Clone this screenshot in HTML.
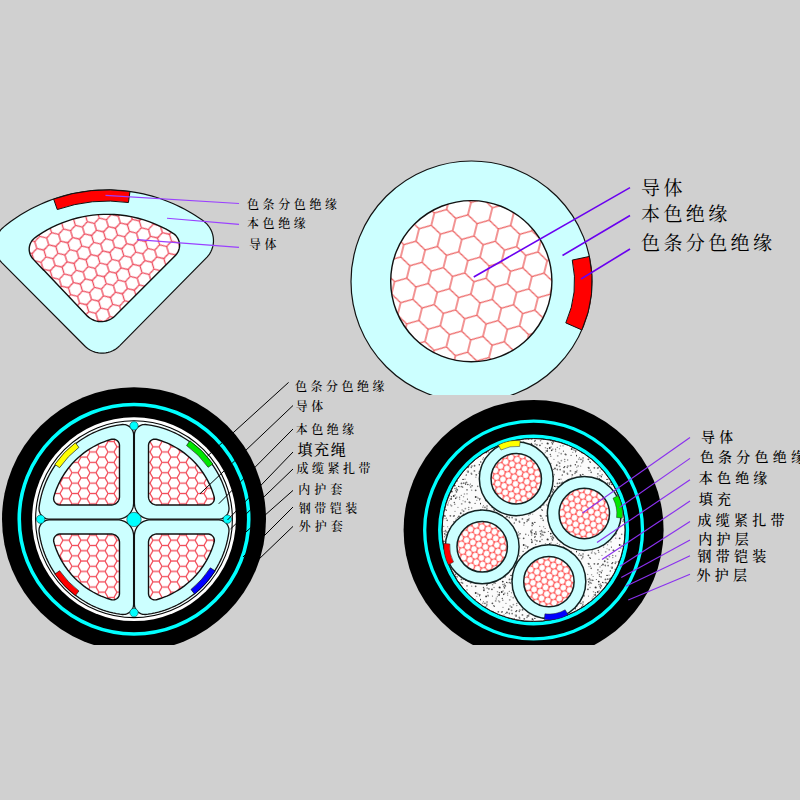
<!DOCTYPE html>
<html lang="zh"><head><meta charset="utf-8"><title>电缆结构示意图</title><style>html,body{margin:0;padding:0;background:#d0d0d0;width:800px;height:800px;overflow:hidden}svg{display:block}</style></head><body>
<svg width="800" height="800" viewBox="0 0 800 800"><defs>
<pattern id="hxA" width="12.47" height="21.6" patternUnits="userSpaceOnUse" patternTransform="translate(0 0) rotate(-17)"><rect width="13.47" height="22.6" fill="#fff"/><path d="M0 3.6 L6.24 0 L12.47 3.6 L12.47 10.8 L6.24 14.4 L0 10.8M6.24 14.4 L6.24 21.6M0 3.6 L0 10.8 M12.47 3.6 L12.47 10.8" fill="none" stroke="#ee4a5c" stroke-width="1.3"/></pattern>
<pattern id="hxB" width="22" height="38.1" patternUnits="userSpaceOnUse" patternTransform="translate(0 0) rotate(14)"><rect width="23" height="39.1" fill="#fff"/><path d="M0 6.35 L11 0 L22 6.35 L22 19.05 L11 25.4 L0 19.05M11 25.4 L11 38.1M0 6.35 L0 19.05 M22 6.35 L22 19.05" fill="none" stroke="#ec5c5c" stroke-width="1.3"/></pattern>
<pattern id="hxC" width="10.39" height="18" patternUnits="userSpaceOnUse" patternTransform="translate(0 0) rotate(90)"><rect width="11.39" height="19" fill="#fff"/><path d="M0 3 L5.2 0 L10.39 3 L10.39 9 L5.2 12 L0 9M5.2 12 L5.2 18M0 3 L0 9 M10.39 3 L10.39 9" fill="none" stroke="#f24a58" stroke-width="1.3"/></pattern>
<pattern id="cpD" width="6.7" height="11.6" patternUnits="userSpaceOnUse" patternTransform="translate(0 0) rotate(20)"><rect width="7.7" height="12.6" fill="#ff5a5a"/><circle cx="0" cy="0" r="2.8" fill="#fff"/><circle cx="6.7" cy="0" r="2.8" fill="#fff"/><circle cx="0" cy="11.6" r="2.8" fill="#fff"/><circle cx="6.7" cy="11.6" r="2.8" fill="#fff"/><circle cx="3.35" cy="5.8" r="2.8" fill="#fff"/></pattern>
<pattern id="spk" width="48" height="48" patternUnits="userSpaceOnUse"><rect width="48" height="48" fill="#fbfbfb"/><circle cx="15.54" cy="7.24" r="0.6" fill="#777"/><circle cx="3.48" cy="25.72" r="0.6" fill="#888"/><circle cx="43.67" cy="10.31" r="0.9" fill="#555"/><circle cx="20.07" cy="11.55" r="0.9" fill="#999"/><circle cx="2.84" cy="27.14" r="0.6" fill="#666"/><circle cx="27.7" cy="19.04" r="0.6" fill="#666"/><circle cx="26.72" cy="6.39" r="0.7" fill="#333"/><circle cx="25.95" cy="27.4" r="0.7" fill="#999"/><circle cx="4.95" cy="27.42" r="0.8" fill="#666"/><circle cx="4.68" cy="34.18" r="0.6" fill="#999"/><circle cx="29.71" cy="23.83" r="0.9" fill="#999"/><circle cx="37.31" cy="22.35" r="0.8" fill="#333"/><circle cx="14.39" cy="38.13" r="0.7" fill="#777"/><circle cx="3.93" cy="14.41" r="0.8" fill="#333"/><circle cx="35.01" cy="13.82" r="0.6" fill="#555"/><circle cx="24.57" cy="7.92" r="0.7" fill="#888"/><circle cx="44.8" cy="20.24" r="0.6" fill="#777"/><circle cx="36.7" cy="27.51" r="0.8" fill="#888"/><circle cx="33.37" cy="28.53" r="0.9" fill="#999"/><circle cx="3.3" cy="4.49" r="0.9" fill="#888"/><circle cx="33.46" cy="3.12" r="0.8" fill="#777"/><circle cx="31.06" cy="47.67" r="0.8" fill="#333"/><circle cx="34.4" cy="42.58" r="0.6" fill="#888"/><circle cx="45.15" cy="17.06" r="0.6" fill="#999"/><circle cx="23.7" cy="10.47" r="0.7" fill="#888"/><circle cx="35.44" cy="19.1" r="0.6" fill="#333"/><circle cx="7.99" cy="19.28" r="0.7" fill="#888"/><circle cx="39.33" cy="41.47" r="0.9" fill="#888"/><circle cx="47.35" cy="32.77" r="0.7" fill="#333"/><circle cx="7.24" cy="8.46" r="0.7" fill="#666"/><circle cx="0.58" cy="39.89" r="0.8" fill="#666"/><circle cx="13.53" cy="6.99" r="0.8" fill="#999"/><circle cx="29.27" cy="15.29" r="0.6" fill="#666"/><circle cx="21.92" cy="41.81" r="0.9" fill="#777"/><circle cx="19.11" cy="18.92" r="0.9" fill="#333"/><circle cx="2.99" cy="3.23" r="0.9" fill="#666"/><circle cx="7.79" cy="16.32" r="0.6" fill="#555"/><circle cx="0.01" cy="7.26" r="0.8" fill="#555"/><circle cx="29.46" cy="3.38" r="0.9" fill="#666"/><circle cx="7.13" cy="12.11" r="0.8" fill="#888"/><circle cx="22.76" cy="5.54" r="0.9" fill="#333"/><circle cx="23.06" cy="14.97" r="0.6" fill="#666"/><circle cx="35.98" cy="35.54" r="0.7" fill="#333"/><circle cx="24.78" cy="9.85" r="0.8" fill="#999"/><circle cx="7.04" cy="26.07" r="0.8" fill="#555"/><circle cx="46.97" cy="41.44" r="0.8" fill="#777"/><circle cx="24.88" cy="43.6" r="0.7" fill="#888"/><circle cx="25.56" cy="37.39" r="0.7" fill="#888"/><circle cx="29.43" cy="37.84" r="0.7" fill="#666"/><circle cx="39.28" cy="35.51" r="0.7" fill="#666"/><circle cx="24.85" cy="17.07" r="0.6" fill="#555"/><circle cx="37.93" cy="22.67" r="0.8" fill="#666"/><circle cx="21.47" cy="44.98" r="0.8" fill="#888"/><circle cx="3.87" cy="4.9" r="0.7" fill="#333"/><circle cx="16.21" cy="23.17" r="0.6" fill="#999"/><circle cx="23.01" cy="31.34" r="0.6" fill="#777"/><circle cx="40.06" cy="5.76" r="0.7" fill="#333"/><circle cx="22.95" cy="8.57" r="0.8" fill="#777"/><circle cx="4.16" cy="45.42" r="0.9" fill="#777"/><circle cx="22.23" cy="35.68" r="0.7" fill="#555"/><circle cx="8.16" cy="6.1" r="0.9" fill="#666"/><circle cx="38.71" cy="7.02" r="0.9" fill="#999"/><circle cx="31.55" cy="16.82" r="0.7" fill="#999"/><circle cx="1.03" cy="38.37" r="0.6" fill="#777"/><circle cx="25.28" cy="44.81" r="0.7" fill="#333"/><circle cx="39.66" cy="10.13" r="0.7" fill="#888"/><circle cx="14.06" cy="11.55" r="0.8" fill="#999"/><circle cx="12.45" cy="20.11" r="0.6" fill="#666"/><circle cx="43.68" cy="16.98" r="0.9" fill="#333"/><circle cx="39.7" cy="42.15" r="0.7" fill="#666"/><circle cx="25.13" cy="0.9" r="0.7" fill="#333"/><circle cx="29.21" cy="37.25" r="0.7" fill="#666"/><circle cx="6.79" cy="29.72" r="0.6" fill="#555"/><circle cx="15.65" cy="24.88" r="0.9" fill="#999"/><circle cx="37.65" cy="5.09" r="0.6" fill="#999"/><circle cx="11.93" cy="13.29" r="0.9" fill="#555"/><circle cx="26.96" cy="36.48" r="0.9" fill="#555"/><circle cx="15.63" cy="46.72" r="0.7" fill="#999"/><circle cx="33.25" cy="21.71" r="0.9" fill="#999"/><circle cx="24.37" cy="11.89" r="0.8" fill="#999"/><circle cx="44.29" cy="42.85" r="0.9" fill="#666"/><circle cx="6.58" cy="5.84" r="0.8" fill="#333"/><circle cx="3.48" cy="11.55" r="0.7" fill="#555"/><circle cx="32.13" cy="37.63" r="0.8" fill="#666"/><circle cx="6.86" cy="42.38" r="0.7" fill="#333"/><circle cx="35.84" cy="4.52" r="0.7" fill="#333"/><circle cx="47.51" cy="39.96" r="0.9" fill="#666"/><circle cx="47.72" cy="19.38" r="0.7" fill="#333"/><circle cx="17.12" cy="4.43" r="0.6" fill="#888"/><circle cx="16.22" cy="22.02" r="0.6" fill="#777"/><circle cx="18.45" cy="24.84" r="0.6" fill="#888"/><circle cx="5.42" cy="44.09" r="0.6" fill="#666"/><circle cx="4.03" cy="13.05" r="0.8" fill="#666"/><circle cx="36.28" cy="39.35" r="0.8" fill="#777"/><circle cx="19.49" cy="25.76" r="0.9" fill="#999"/><circle cx="33.62" cy="4.29" r="0.7" fill="#555"/><circle cx="20.42" cy="3.48" r="0.6" fill="#555"/><circle cx="38.48" cy="4.02" r="0.6" fill="#666"/><circle cx="12.69" cy="5.84" r="0.8" fill="#555"/><circle cx="47.73" cy="20.05" r="0.7" fill="#888"/><circle cx="2.07" cy="34.06" r="0.7" fill="#555"/><circle cx="12.57" cy="8.7" r="0.8" fill="#888"/><circle cx="25.49" cy="9.88" r="0.7" fill="#333"/><circle cx="12.99" cy="38.58" r="0.6" fill="#888"/><circle cx="0.74" cy="35.19" r="0.7" fill="#999"/><circle cx="24.68" cy="11.79" r="0.6" fill="#333"/><circle cx="31.6" cy="31.21" r="0.9" fill="#777"/><circle cx="26.2" cy="42.66" r="0.8" fill="#999"/><circle cx="33.01" cy="47.16" r="0.7" fill="#888"/><circle cx="39.95" cy="33.92" r="0.7" fill="#777"/><circle cx="19.43" cy="16.68" r="0.7" fill="#555"/><circle cx="0.68" cy="30.02" r="0.9" fill="#888"/><circle cx="7.84" cy="4.06" r="0.8" fill="#333"/><circle cx="28.74" cy="33.25" r="0.9" fill="#555"/><circle cx="8.9" cy="12.91" r="0.8" fill="#555"/><circle cx="17.48" cy="15.79" r="0.8" fill="#999"/><circle cx="11.73" cy="46.35" r="0.7" fill="#888"/><circle cx="17.12" cy="0.05" r="0.6" fill="#333"/><circle cx="22.78" cy="24.13" r="0.7" fill="#666"/><circle cx="24.23" cy="0.24" r="0.6" fill="#888"/><circle cx="6.91" cy="28.17" r="0.6" fill="#333"/><circle cx="14.38" cy="30.22" r="0.7" fill="#555"/><circle cx="31.56" cy="34.37" r="0.9" fill="#999"/><circle cx="36.69" cy="34.59" r="0.7" fill="#333"/><circle cx="13.64" cy="29.7" r="0.6" fill="#666"/><circle cx="39.59" cy="34.32" r="0.9" fill="#999"/><circle cx="35.22" cy="38.99" r="0.6" fill="#666"/><circle cx="39.67" cy="28.03" r="0.7" fill="#777"/><circle cx="4.08" cy="2.01" r="0.8" fill="#777"/><circle cx="46.06" cy="18.08" r="0.6" fill="#333"/><circle cx="30.13" cy="30.06" r="0.7" fill="#777"/><circle cx="23.49" cy="0.16" r="0.6" fill="#555"/><circle cx="31.65" cy="3.17" r="0.9" fill="#777"/><circle cx="12.11" cy="3.57" r="0.7" fill="#888"/><circle cx="35.01" cy="9.85" r="0.9" fill="#777"/><circle cx="23.71" cy="18.36" r="0.8" fill="#333"/><circle cx="36.81" cy="29.61" r="0.7" fill="#777"/><circle cx="3.72" cy="7.08" r="0.8" fill="#888"/><circle cx="29.82" cy="6.41" r="0.6" fill="#333"/><circle cx="23.32" cy="46.68" r="0.7" fill="#555"/><circle cx="32.43" cy="13.96" r="0.8" fill="#999"/><circle cx="22.3" cy="22.38" r="0.7" fill="#555"/><circle cx="14.96" cy="4.12" r="0.6" fill="#333"/><circle cx="13.9" cy="3.67" r="0.9" fill="#999"/><circle cx="47.71" cy="18.57" r="0.6" fill="#666"/><circle cx="27.91" cy="6.8" r="0.8" fill="#999"/><circle cx="45.73" cy="6.37" r="0.8" fill="#777"/><circle cx="42.57" cy="33.76" r="0.9" fill="#666"/><circle cx="43.09" cy="23.33" r="0.7" fill="#555"/><circle cx="0.17" cy="23.6" r="0.9" fill="#333"/><circle cx="14.49" cy="6.75" r="0.9" fill="#888"/><circle cx="15.17" cy="40.33" r="0.8" fill="#555"/><circle cx="36.04" cy="40.28" r="0.7" fill="#555"/><circle cx="34.23" cy="43.28" r="0.8" fill="#888"/><circle cx="17.87" cy="18.86" r="0.6" fill="#999"/><circle cx="17.31" cy="20.55" r="0.6" fill="#888"/><circle cx="13.47" cy="2.48" r="0.8" fill="#777"/><circle cx="30.48" cy="7.15" r="0.9" fill="#888"/><circle cx="24.53" cy="9.11" r="0.9" fill="#888"/><circle cx="42.44" cy="38.97" r="0.9" fill="#777"/><circle cx="43.84" cy="45.15" r="0.7" fill="#999"/><circle cx="34.54" cy="2.37" r="0.9" fill="#777"/><circle cx="21.64" cy="36.13" r="0.8" fill="#777"/><circle cx="23.31" cy="43.77" r="0.7" fill="#999"/><circle cx="8.2" cy="19.91" r="0.8" fill="#888"/><circle cx="12.28" cy="35.46" r="0.8" fill="#777"/><circle cx="19.5" cy="11.46" r="0.9" fill="#333"/><circle cx="5.75" cy="30.87" r="0.7" fill="#555"/><circle cx="24.03" cy="38.97" r="0.7" fill="#999"/><circle cx="21.74" cy="15.98" r="0.9" fill="#333"/><circle cx="6.7" cy="9.24" r="0.7" fill="#555"/><circle cx="16.41" cy="4.37" r="0.8" fill="#666"/><circle cx="12.4" cy="27.34" r="0.9" fill="#555"/><circle cx="18.38" cy="35.8" r="0.9" fill="#666"/><circle cx="12.97" cy="36.1" r="0.8" fill="#333"/><circle cx="27.57" cy="17.29" r="0.7" fill="#777"/><circle cx="4.44" cy="43.05" r="0.9" fill="#333"/><circle cx="31" cy="20.73" r="0.6" fill="#888"/><circle cx="6.11" cy="20.41" r="0.9" fill="#333"/><circle cx="0.01" cy="18.79" r="0.9" fill="#999"/></pattern>
<clipPath id="clipTop"><rect x="0" y="0" width="800" height="395"/></clipPath>
<clipPath id="clipBot"><rect x="0" y="0" width="800" height="645"/></clipPath>
</defs>
<rect width="800" height="800" fill="#d0d0d0"/>
<g clip-path="url(#clipTop)">
<circle cx="471.5" cy="281.5" r="120.5" fill="#ccffff" stroke="#111" stroke-width="1.2"/>
<circle cx="471.3" cy="281.2" r="80.6" fill="url(#hxB)" stroke="#111" stroke-width="1.4"/>
<path d="M589.37 256.45A120.5 120.5 0 0 1 581.84 329.93L565.81 322.9A103 103 0 0 0 572.25 260.09Z" fill="#ff0000" stroke="#111" stroke-width="1"/>
</g>
<path d="M2.1 228.45L0.49 230.22L-0.94 232.13L-1.58 233.14L-2.71 235.24L-3.63 237.45L-4.33 239.73L-4.8 242.07L-5.04 244.44L-5.08 245.64L-4.97 248.02L-4.62 250.39L-4.05 252.7L-3.25 254.95L-2.23 257.11L-1.01 259.16L0.41 261.09L2.01 262.86L85.55 346.77L87.42 348.31L88.41 349.01L90.49 350.26L92.68 351.3L94.96 352.12L96.13 352.44L98.51 352.91L100.92 353.14L103.35 353.14L105.76 352.89L108.14 352.41L110.46 351.7L112.69 350.76L114.82 349.61L115.84 348.95L117.78 347.5L119.57 345.86L207.29 256.89L208.07 255.98L209.48 254.05L210.69 251.99L211.7 249.82L212.49 247.56L212.8 246.41L213.25 244.06L213.46 241.68L213.44 239.29L213.19 236.92L212.7 234.58L211.99 232.29L211.06 230.09L209.91 228L208.57 226.02L207.04 224.19L206.2 223.33L204.42 221.74L201.82 219.83L198.38 217.48L195.01 215.29L191.72 213.26L188.25 211.23L184.73 209.29L181.03 207.37L176.64 205.25L172.84 203.53L169.14 201.98L164.59 200.21L160.67 198.8L156.04 197.29L152.18 196.14L148.16 195.06L143.42 193.92L139.49 193.08L135.39 192.32L130.58 191.56L126.44 191.02L122.45 190.61L117.59 190.23L113.57 190.03L109.55 189.93L102.37 190L98.36 190.17L94.35 190.45L90.49 190.8L86.5 191.27L82.52 191.83L78.56 192.49L71.52 193.92L67.61 194.85L63.72 195.87L59.86 196.99L56.03 198.21L52.23 199.52L48.61 200.87L44.87 202.36L41.18 203.94L34.68 206.99L31.1 208.82L27.57 210.74L24.08 212.74L20.65 214.83L17.27 217L13.94 219.26L10.67 221.59L6.78 224.53L3.87 226.86Z" fill="#ccffff" stroke="#111" stroke-width="1.2"/>
<path d="M34.08 238.44L33.08 239.42L32.17 240.48L31.02 242.24L30.39 243.5L29.9 244.81L29.53 246.16L29.3 247.54L29.2 248.94L29.24 250.34L29.42 251.73L29.73 253.09L30.17 254.42L30.74 255.7L31.43 256.92L32.24 258.07L33.15 259.13L43.71 270.23L43.9 270.23L87.43 316.12L88.88 317.38L90.44 318.49L92.1 319.45L93.85 320.24L95.67 320.86L96.6 321.1L98.49 321.45L100.4 321.61L102.32 321.59L104.23 321.39L106.11 320.99L107.94 320.42L109.71 319.68L111.4 318.76L112.99 317.69L114.47 316.47L175.86 254.96L177.15 253.31L177.87 252.12L178.47 250.87L178.94 249.56L179.29 248.21L179.56 246.14L179.57 244.75L179.45 243.36L179.19 241.99L178.8 240.66L178.29 239.37L177.65 238.13L176.47 236.4L175.56 235.36L174.55 234.4L173.44 233.55L170.74 231.87L166.14 229.24L160.82 226.52L155.29 224.03L149.65 221.81L143.91 219.87L138.08 218.22L132.18 216.85L126.12 215.76L120.11 214.99L114.07 214.51L108.77 214.33L103.47 214.38L98.17 214.66L92.89 215.16L87.64 215.9L82.42 216.85L77.25 218.03L72.14 219.43L67.09 221.05L62.11 222.89L57.22 224.93L51.82 227.48L47.14 229.97L42.49 232.7L37.48 235.95L35.18 237.57Z" fill="url(#hxA)" stroke="#111" stroke-width="1.4"/>
<path d="M53.62 199.04A163.74 163.74 0 0 1 129.98 191.48L128.44 202.52A152.6 152.6 0 0 0 57.28 209.56Z" fill="#ff0000" stroke="#111" stroke-width="1"/>
<g clip-path="url(#clipBot)">
<circle cx="134" cy="519.2" r="132" fill="#000"/>
<circle cx="134" cy="519.2" r="114.75" fill="none" stroke="#00ffff" stroke-width="3.6"/>
<circle cx="134" cy="519.2" r="101.9" fill="#fff"/>
<circle cx="134" cy="519.2" r="98.4" fill="#f4ffff" stroke="#000" stroke-width="1.1"/>
<path d="M133.61 503.1L133.61 435L133.56 433.98L133.41 432.97L133.17 431.98L132.83 431.02L132.4 430.1L131.88 429.22L131.27 428.39L130.23 427.28L129.03 426.32L127.71 425.56L126.77 425.15L125.3 424.73L124.29 424.56L122.77 424.5L119.89 424.84L116.42 425.42L112.97 426.13L109.54 426.97L106.16 427.93L102.93 428.98L99.61 430.18L96.35 431.51L93.14 432.95L90.91 434.04L87.79 435.68L84.74 437.44L81.86 439.24L78.94 441.21L76.93 442.66L74.14 444.82L71.53 446.99L68.91 449.33L66.37 451.78L64.64 453.55L62.26 456.15L60.06 458.73L57.87 461.5L55.79 464.34L54.38 466.38L52.48 469.35L50.69 472.38L49.01 475.48L47.45 478.64L46.01 481.85L44.73 484.99L43.52 488.3L42.43 491.66L41.43 495.17L40.38 499.61L39.69 503.2L39.08 507.25L38.99 508.78L39.13 510.3L39.49 511.79L40.06 513.21L40.55 514.1L41.44 515.34L42.51 516.44L43.72 517.38L45.05 518.12L46 518.51L47.47 518.91L48.99 519.1L117.6 519.11L119.17 519.03L121.49 518.63L122.99 518.17L124.44 517.57L125.83 516.83L127.76 515.48L128.92 514.42L130.46 512.64L131.33 511.33L132.39 509.23L132.92 507.75L133.3 506.22L133.53 504.67Z" fill="#ccffff" stroke="#111" stroke-width="1.3"/>
<path d="M134.39 503.1L134.39 435L134.44 433.98L134.59 432.97L134.83 431.98L135.17 431.02L135.6 430.1L136.12 429.22L136.73 428.39L137.77 427.28L138.97 426.32L140.29 425.56L141.23 425.15L142.7 424.73L143.71 424.56L145.23 424.5L148.11 424.84L151.58 425.42L155.03 426.13L158.46 426.97L161.84 427.93L165.07 428.98L168.39 430.18L171.65 431.51L174.86 432.95L177.09 434.04L180.21 435.68L183.26 437.44L186.14 439.24L189.06 441.21L191.07 442.66L193.86 444.82L196.47 446.99L199.09 449.33L201.63 451.78L203.36 453.55L205.74 456.15L207.94 458.73L210.13 461.5L212.21 464.34L213.62 466.38L215.52 469.35L217.31 472.38L218.99 475.48L220.55 478.64L221.99 481.85L223.27 484.99L224.48 488.3L225.57 491.66L226.57 495.17L227.62 499.61L228.31 503.2L228.92 507.25L229.01 508.78L228.87 510.3L228.51 511.79L227.94 513.21L227.45 514.1L226.56 515.34L225.49 516.44L224.28 517.38L222.95 518.12L222 518.51L220.53 518.91L219.01 519.1L150.4 519.11L148.83 519.03L146.51 518.63L145.01 518.17L143.56 517.57L142.17 516.83L140.24 515.48L139.08 514.42L137.54 512.64L136.67 511.33L135.61 509.23L135.08 507.75L134.7 506.22L134.47 504.67Z" fill="#ccffff" stroke="#111" stroke-width="1.3"/>
<path d="M133.61 535.9L133.61 604L133.56 605.02L133.41 606.03L133.17 607.02L132.83 607.98L132.4 608.9L131.88 609.78L131.27 610.61L130.23 611.72L129.03 612.68L127.71 613.44L126.77 613.85L125.3 614.27L124.29 614.44L122.77 614.5L119.89 614.16L116.42 613.58L112.97 612.87L109.54 612.03L106.16 611.07L102.93 610.02L99.61 608.82L96.35 607.49L93.14 606.05L90.91 604.96L87.79 603.32L84.74 601.56L81.86 599.76L78.94 597.79L76.93 596.34L74.14 594.18L71.53 592.01L68.91 589.67L66.37 587.22L64.64 585.45L62.26 582.85L60.06 580.27L57.87 577.5L55.79 574.66L54.38 572.62L52.48 569.65L50.69 566.62L49.01 563.52L47.45 560.36L46.01 557.15L44.73 554.01L43.52 550.7L42.43 547.34L41.43 543.83L40.38 539.39L39.69 535.8L39.08 531.75L38.99 530.22L39.13 528.7L39.49 527.21L40.06 525.79L40.55 524.9L41.44 523.66L42.51 522.56L43.72 521.62L45.05 520.88L46 520.49L47.47 520.09L48.99 519.9L117.6 519.89L119.17 519.97L121.49 520.37L122.99 520.83L124.44 521.43L125.83 522.17L127.76 523.52L128.92 524.58L130.46 526.36L131.33 527.67L132.39 529.77L132.92 531.25L133.3 532.78L133.53 534.33Z" fill="#ccffff" stroke="#111" stroke-width="1.3"/>
<path d="M134.39 535.9L134.39 604L134.44 605.02L134.59 606.03L134.83 607.02L135.17 607.98L135.6 608.9L136.12 609.78L136.73 610.61L137.77 611.72L138.97 612.68L140.29 613.44L141.23 613.85L142.7 614.27L143.71 614.44L145.23 614.5L148.11 614.16L151.58 613.58L155.03 612.87L158.46 612.03L161.84 611.07L165.07 610.02L168.39 608.82L171.65 607.49L174.86 606.05L177.09 604.96L180.21 603.32L183.26 601.56L186.14 599.76L189.06 597.79L191.07 596.34L193.86 594.18L196.47 592.01L199.09 589.67L201.63 587.22L203.36 585.45L205.74 582.85L207.94 580.27L210.13 577.5L212.21 574.66L213.62 572.62L215.52 569.65L217.31 566.62L218.99 563.52L220.55 560.36L221.99 557.15L223.27 554.01L224.48 550.7L225.57 547.34L226.57 543.83L227.62 539.39L228.31 535.8L228.92 531.75L229.01 530.22L228.87 528.7L228.51 527.21L227.94 525.79L227.45 524.9L226.56 523.66L225.49 522.56L224.28 521.62L222.95 520.88L222 520.49L220.53 520.09L219.01 519.9L150.4 519.89L148.83 519.97L146.51 520.37L145.01 520.83L143.56 521.43L142.17 522.17L140.24 523.52L139.08 524.58L137.54 526.36L136.67 527.67L135.61 529.77L135.08 531.25L134.7 532.78L134.47 534.33Z" fill="#ccffff" stroke="#111" stroke-width="1.3"/>
<path d="M111.83 504.97L112.66 504.85L113.47 504.64L114.64 504.19L115.38 503.8L116.07 503.34L116.71 502.81L117.31 502.22L118.08 501.23L118.51 500.51L118.86 499.76L119.14 498.97L119.35 498.16L119.47 497.33L119.51 496.5L119.48 445L119.24 443.76L118.9 442.87L118.25 441.78L117.41 440.84L116.67 440.25L115.56 439.64L114.36 439.26L113.1 439.12L111.84 439.22L110.76 439.5L106.94 440.71L103.98 441.79L101.14 442.94L98.34 444.21L95.6 445.57L92.97 446.99L88.54 449.69L86 451.41L83.59 453.17L79.55 456.44L77.27 458.49L75.12 460.56L71.56 464.34L69.58 466.68L67.72 469.02L64.71 473.25L63.05 475.83L61.53 478.4L60.07 481.1L58.71 483.84L56.63 488.6L55.55 491.47L54.57 494.38L53.79 497.03L53.62 498.28L53.7 499.55L54.03 500.77L54.42 501.63L55.13 502.67L56.03 503.56L57.09 504.26L58.26 504.74L59.5 504.98L111 505.01Z" fill="url(#hxC)" stroke="#111" stroke-width="1.4"/>
<path d="M156.17 504.97L155.34 504.85L154.53 504.64L153.36 504.19L152.62 503.8L151.93 503.34L151.29 502.81L150.69 502.22L149.92 501.23L149.49 500.51L149.14 499.76L148.86 498.97L148.65 498.16L148.53 497.33L148.49 496.5L148.52 445L148.76 443.76L149.1 442.87L149.75 441.78L150.59 440.84L151.33 440.25L152.44 439.64L153.64 439.26L154.9 439.12L156.16 439.22L157.24 439.5L161.06 440.71L164.02 441.79L166.86 442.94L169.66 444.21L172.4 445.57L175.03 446.99L179.46 449.69L182 451.41L184.41 453.17L188.45 456.44L190.73 458.49L192.88 460.56L196.44 464.34L198.42 466.68L200.28 469.02L203.29 473.25L204.95 475.83L206.47 478.4L207.93 481.1L209.29 483.84L211.37 488.6L212.45 491.47L213.43 494.38L214.21 497.03L214.38 498.28L214.3 499.55L213.97 500.77L213.58 501.63L212.87 502.67L211.97 503.56L210.91 504.26L209.74 504.74L208.5 504.98L157 505.01Z" fill="url(#hxC)" stroke="#111" stroke-width="1.4"/>
<path d="M111.83 534.03L112.66 534.15L113.47 534.36L114.64 534.81L115.38 535.2L116.07 535.66L116.71 536.19L117.31 536.78L118.08 537.77L118.51 538.49L118.86 539.24L119.14 540.03L119.35 540.84L119.47 541.67L119.51 542.5L119.48 594L119.24 595.24L118.9 596.13L118.25 597.22L117.41 598.16L116.67 598.75L115.56 599.36L114.36 599.74L113.1 599.88L111.84 599.78L110.76 599.5L106.94 598.29L103.98 597.21L101.14 596.06L98.34 594.79L95.6 593.43L92.97 592.01L88.54 589.31L86 587.59L83.59 585.83L79.55 582.56L77.27 580.51L75.12 578.44L71.56 574.66L69.58 572.32L67.72 569.98L64.71 565.75L63.05 563.17L61.53 560.6L60.07 557.9L58.71 555.16L56.63 550.4L55.55 547.53L54.57 544.62L53.79 541.97L53.62 540.72L53.7 539.45L54.03 538.23L54.42 537.37L55.13 536.33L56.03 535.44L57.09 534.74L58.26 534.26L59.5 534.02L111 533.99Z" fill="url(#hxC)" stroke="#111" stroke-width="1.4"/>
<path d="M156.17 534.03L155.34 534.15L154.53 534.36L153.36 534.81L152.62 535.2L151.93 535.66L151.29 536.19L150.69 536.78L149.92 537.77L149.49 538.49L149.14 539.24L148.86 540.03L148.65 540.84L148.53 541.67L148.49 542.5L148.52 594L148.76 595.24L149.1 596.13L149.75 597.22L150.59 598.16L151.33 598.75L152.44 599.36L153.64 599.74L154.9 599.88L156.16 599.78L157.24 599.5L161.06 598.29L164.02 597.21L166.86 596.06L169.66 594.79L172.4 593.43L175.03 592.01L179.46 589.31L182 587.59L184.41 585.83L188.45 582.56L190.73 580.51L192.88 578.44L196.44 574.66L198.42 572.32L200.28 569.98L203.29 565.75L204.95 563.17L206.47 560.6L207.93 557.9L209.29 555.16L211.37 550.4L212.45 547.53L213.43 544.62L214.21 541.97L214.38 540.72L214.3 539.45L213.97 538.23L213.58 537.37L212.87 536.33L211.97 535.44L210.91 534.74L209.74 534.26L208.5 534.02L157 533.99Z" fill="url(#hxC)" stroke="#111" stroke-width="1.4"/>
<circle cx="134" cy="519.5" r="7.2" fill="#00ffff" stroke="#144" stroke-width="0.6"/>
<circle cx="40.599999999999994" cy="519.2" r="4.2" fill="#00ffff" stroke="#144" stroke-width="0.6"/>
<circle cx="227.4" cy="519.2" r="4.2" fill="#00ffff" stroke="#144" stroke-width="0.6"/>
<circle cx="134" cy="425.80000000000007" r="4.2" fill="#00ffff" stroke="#144" stroke-width="0.6"/>
<circle cx="134" cy="612.6" r="4.2" fill="#00ffff" stroke="#144" stroke-width="0.6"/>
<path d="M54.83 464.38A96.3 96.3 0 0 1 75.38 442.8L78.91 447.4A90.5 90.5 0 0 0 59.6 467.68Z" fill="#ffff00" stroke="#000" stroke-width="0.6"/>
<path d="M189.92 440.8A96.3 96.3 0 0 1 212.88 463.96L208.13 467.29A90.5 90.5 0 0 0 186.55 445.52Z" fill="#00e600" stroke="#000" stroke-width="0.6"/>
<path d="M75.38 595.6A96.3 96.3 0 0 1 54.83 574.02L59.6 570.72A90.5 90.5 0 0 0 78.91 591Z" fill="#ff0000" stroke="#000" stroke-width="0.6"/>
<path d="M215.22 570.94A96.3 96.3 0 0 1 194.6 594.04L190.95 589.53A90.5 90.5 0 0 0 210.33 567.83Z" fill="#0000ff" stroke="#000" stroke-width="0.6"/>
</g>
<g clip-path="url(#clipBot)">
<circle cx="533.6" cy="530" r="130" fill="#000"/>
<circle cx="533.6" cy="530" r="108.9" fill="none" stroke="#00ffff" stroke-width="3.3"/>
<circle cx="533.6" cy="530" r="93.8" fill="none" stroke="#00ffff" stroke-width="3.5"/>
<circle cx="533.6" cy="530" r="91.4" fill="url(#spk)" stroke="#111" stroke-width="1"/>
<circle cx="516.25" cy="478.75" r="36.9" fill="#ccffff" stroke="#122" stroke-width="1.5"/>
<circle cx="516.25" cy="478.75" r="25.2" fill="url(#cpD)" stroke="#122" stroke-width="1.5"/>
<path d="M498.27 444.93A38.3 38.3 0 0 1 520.25 440.66L519.65 446.43A32.5 32.5 0 0 0 500.99 450.05Z" fill="#ffff00" stroke="#222" stroke-width="0.5"/>
<circle cx="482.2" cy="546.8" r="36.9" fill="#ccffff" stroke="#122" stroke-width="1.5"/>
<circle cx="482.2" cy="546.8" r="25.2" fill="url(#cpD)" stroke="#122" stroke-width="1.5"/>
<path d="M448.38 564.78A38.3 38.3 0 0 1 444.05 543.46L449.82 543.97A32.5 32.5 0 0 0 453.5 562.06Z" fill="#ff0000" stroke="#222" stroke-width="0.5"/>
<circle cx="584.3" cy="513.5" r="36.9" fill="#ccffff" stroke="#122" stroke-width="1.5"/>
<circle cx="584.3" cy="513.5" r="25.2" fill="url(#cpD)" stroke="#122" stroke-width="1.5"/>
<path d="M618.12 495.52A38.3 38.3 0 0 1 622.31 518.17L616.56 517.46A32.5 32.5 0 0 0 613 498.24Z" fill="#00e600" stroke="#222" stroke-width="0.5"/>
<circle cx="548.9" cy="581.6" r="36.9" fill="#ccffff" stroke="#122" stroke-width="1.5"/>
<circle cx="548.9" cy="581.6" r="25.2" fill="url(#cpD)" stroke="#122" stroke-width="1.5"/>
<path d="M568.05 614.77A38.3 38.3 0 0 1 544.23 619.61L544.94 613.86A32.5 32.5 0 0 0 565.15 609.75Z" fill="#0000ff" stroke="#222" stroke-width="0.5"/>
</g>
<line x1="473.75" y1="277" x2="630" y2="187.6" stroke="#6a00f0" stroke-width="1.6"/>
<line x1="562.5" y1="255.5" x2="630" y2="215.5" stroke="#6a00f0" stroke-width="1.6"/>
<line x1="581" y1="279" x2="630" y2="249" stroke="#6a00f0" stroke-width="1.6"/>
<line x1="105.5" y1="195.4" x2="239" y2="203.5" stroke="#9a40ff" stroke-width="1.1"/>
<line x1="167" y1="218.3" x2="239" y2="224.4" stroke="#9a40ff" stroke-width="1.1"/>
<line x1="137" y1="239.6" x2="239" y2="247.4" stroke="#9a40ff" stroke-width="1.1"/>
<line x1="582.5" y1="513" x2="690" y2="437.5" stroke="#8a30ee" stroke-width="1.15"/>
<line x1="619.5" y1="507.5" x2="690" y2="458.4" stroke="#8a30ee" stroke-width="1.15"/>
<line x1="597" y1="542.5" x2="690" y2="479.75" stroke="#8a30ee" stroke-width="1.15"/>
<line x1="602" y1="559.5" x2="690" y2="501.1" stroke="#8a30ee" stroke-width="1.15"/>
<line x1="620" y1="566.25" x2="690" y2="521.4" stroke="#8a30ee" stroke-width="1.15"/>
<line x1="621.25" y1="577.5" x2="690" y2="540" stroke="#8a30ee" stroke-width="1.15"/>
<line x1="625.75" y1="586.25" x2="690" y2="555.8" stroke="#8a30ee" stroke-width="1.15"/>
<line x1="628.25" y1="600" x2="690" y2="574.25" stroke="#8a30ee" stroke-width="1.15"/>
<line x1="207.5" y1="456" x2="288.6" y2="382.4" stroke="#000" stroke-width="1"/>
<line x1="200" y1="493.75" x2="293" y2="405.5" stroke="#000" stroke-width="1"/>
<line x1="218.75" y1="503.75" x2="293" y2="429" stroke="#000" stroke-width="1"/>
<line x1="227.5" y1="520" x2="293" y2="452" stroke="#000" stroke-width="1"/>
<line x1="230.5" y1="529" x2="293" y2="469" stroke="#000" stroke-width="1"/>
<line x1="233.5" y1="543" x2="293" y2="490.4" stroke="#000" stroke-width="1"/>
<line x1="243" y1="557" x2="293" y2="507" stroke="#000" stroke-width="1"/>
<line x1="257" y1="561" x2="293" y2="526.4" stroke="#000" stroke-width="1"/>
<g font-family='"Liberation Serif","Noto Serif CJK SC",serif' fill="#000" font-weight="500">
<text x="641" y="194.5" font-size="19" letter-spacing="3.4" font-weight="400">导体</text>
<text x="641" y="220.5" font-size="19" letter-spacing="3.4" font-weight="400">本色绝缘</text>
<text x="641" y="250" font-size="19" letter-spacing="3.4" font-weight="400">色条分色绝缘</text>
<text x="247" y="208.5" font-size="12" letter-spacing="3.6">色条分色绝缘</text>
<text x="247" y="227.5" font-size="12" letter-spacing="3.6">本色绝缘</text>
<text x="249" y="249" font-size="12" letter-spacing="3.6">导体</text>
<text x="295" y="391" font-size="12" letter-spacing="3.5">色条分色绝缘</text>
<text x="295.8" y="410.5" font-size="12" letter-spacing="3.5">导体</text>
<text x="295.8" y="434" font-size="12" letter-spacing="3.5">本色绝缘</text>
<text x="297.5" y="455" font-size="15" letter-spacing="1.6">填充绳</text>
<text x="296.5" y="472.5" font-size="12" letter-spacing="3.5">成缆紧扎带</text>
<text x="298.3" y="494" font-size="12" letter-spacing="4">内护套</text>
<text x="298.75" y="513" font-size="12" letter-spacing="3.5">钢带铠装</text>
<text x="298.75" y="530.5" font-size="12" letter-spacing="4">外护套</text>
<text x="701" y="442" font-size="14" letter-spacing="4.2">导体</text>
<text x="699.9" y="461.5" font-size="14" letter-spacing="4.2">色条分色绝缘</text>
<text x="698.75" y="482.5" font-size="14" letter-spacing="4.2">本色绝缘</text>
<text x="698.75" y="503.5" font-size="14" letter-spacing="4.2">填充</text>
<text x="697.6" y="524.5" font-size="14" letter-spacing="4.2">成缆紧扎带</text>
<text x="698.3" y="543.5" font-size="14" letter-spacing="4.2">内护层</text>
<text x="697.6" y="560.5" font-size="14" letter-spacing="4.2">钢带铠装</text>
<text x="696.5" y="579.5" font-size="14" letter-spacing="4.2">外护层</text>
</g></svg>
</body></html>
